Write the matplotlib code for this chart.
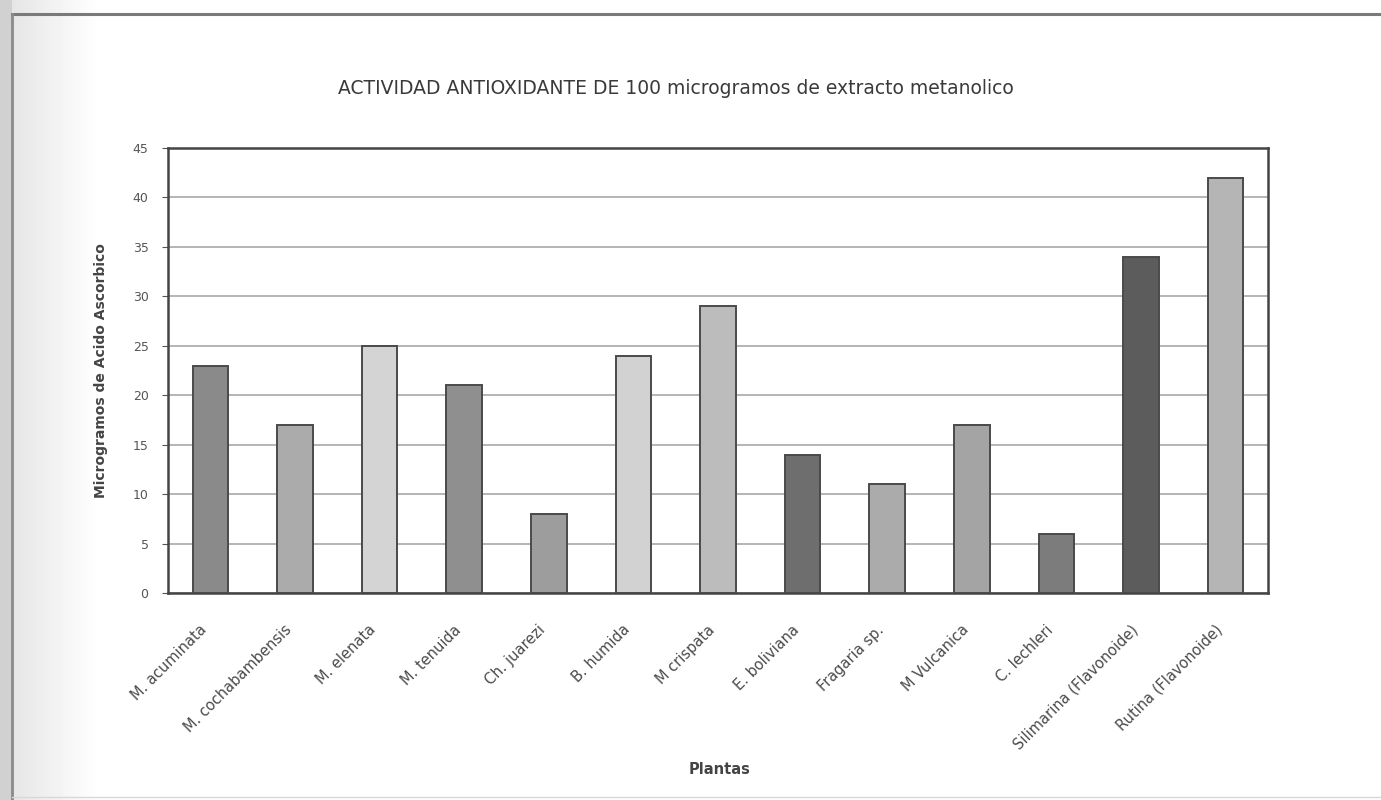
import matplotlib
matplotlib.use('Agg')
import matplotlib.pyplot as plt
import matplotlib.transforms as mtransforms
import numpy as np

plantas = ['M. acuminata', 'M. cochabambensis', 'M. elenata', 'M. tenuida',
           'Ch. juarezi', 'B. humida', 'M crispata', 'E. boliviana',
           'Fragaria sp.', 'M Vulcanica', 'C. lechleri',
           'Silimarina (Flavonoide)', 'Rutina (Flavonoide)']
acido_ascorbico = [23, 17, 25, 21, 8, 24, 29, 14, 11, 17, 6, 34, 42]
tonos = ['#8a8a8a', '#ababab', '#d4d4d4', '#8f8f8f', '#9d9d9d', '#d2d2d2',
         '#bcbcbc', '#6e6e6e', '#ababab', '#a4a4a4', '#7c7c7c', '#5c5c5c',
         '#b5b5b5']
y_ticks = [0, 5, 10, 15, 20, 25, 30, 35, 40, 45]

W, H = 1381, 800
fig = plt.figure(figsize=(W / 100, H / 100), dpi=100)
fig.patch.set_facecolor('white')

# scanned page frame: grey shading on the left and thin border lines
bg = fig.add_axes([0, 0, 1, 1], zorder=-5)
bg.set_xlim(0, W)
bg.set_ylim(H, 0)
bg.axis('off')
shade = np.linspace(0.84, 1.0, 100) ** 0.7
shade[:12] = 0.82
bg.imshow(np.tile(shade, (10, 1)), cmap='gray', vmin=0, vmax=1,
          extent=[0, 100, H, 0], aspect='auto')
bg.plot([12, W], [14, 14], color='#7a7a7a', lw=2.2)
bg.plot([12, 12], [14, H], color='#8a8a8a', lw=2.0)
bg.plot([12, W], [797, 797], color='#d8d8d8', lw=1.0)

ax = fig.add_axes([168 / W, 1 - 593 / H, 1100 / W, 445 / H])
x = np.arange(len(plantas))
ax.bar(x, acido_ascorbico, width=0.42, color=tonos,
       edgecolor='#4a4a4a', linewidth=1.4, zorder=3)

ax.set_xlim(-0.5, len(plantas) - 0.5)
ax.set_ylim(0, 45)
ax.set_yticks(y_ticks)
ax.set_yticklabels([str(v) for v in y_ticks], fontsize=9, color='#555555')
ax.yaxis.grid(True, color='#a8a8a8', linewidth=1.2, zorder=0)
ax.tick_params(axis='y', length=4, color='#555555', pad=10)
ax.set_xticks(x)
ax.set_xticklabels(plantas, rotation=45, ha='right', rotation_mode='anchor',
                   fontsize=10.5, color='#4a4a4a')
ax.tick_params(axis='x', length=0, pad=21)
# nudge the slanted labels a little to the left of each bar
shift = mtransforms.ScaledTranslation(-0.11, 0, fig.dpi_scale_trans)
for lbl in ax.get_xticklabels():
    lbl.set_transform(lbl.get_transform() + shift)
for s in ax.spines.values():
    s.set_color('#444444')
    s.set_linewidth(1.8)

ax.set_ylabel('Microgramos de Acido Ascorbico', fontsize=10, color='#444444',
              fontweight='bold', labelpad=18)
fig.text(720 / W, 1 - 770 / H, 'Plantas', fontsize=10.5, color='#444444',
         fontweight='bold', ha='center', va='center')
fig.text(676 / W, 1 - 88 / H,
         'ACTIVIDAD ANTIOXIDANTE DE 100 microgramos de extracto metanolico',
         fontsize=13.5, color='#3a3a3a', ha='center', va='center')

fig.savefig('out.png', dpi=100)
